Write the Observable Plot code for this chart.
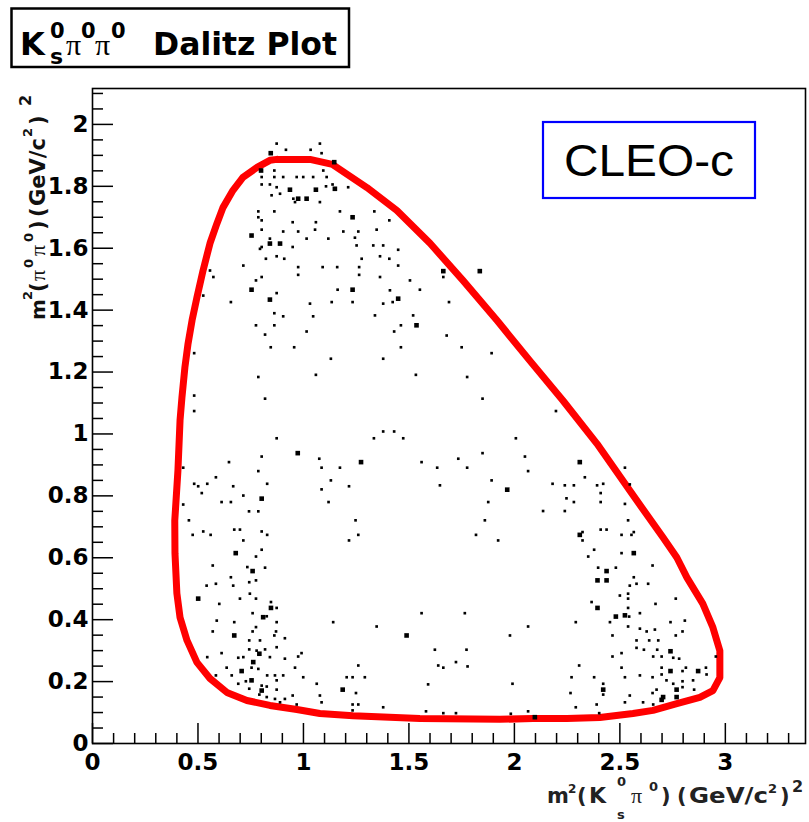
<!DOCTYPE html>
<html>
<head>
<meta charset="utf-8">
<script src="https://cdn.jsdelivr.net/npm/d3@7"></script>
<script src="https://cdn.jsdelivr.net/npm/@observablehq/plot@0.6"></script>
<style>
  body { margin: 0; background: #fff; }
  #wrap { position: relative; width: 809px; height: 822px; overflow: hidden; }
  #wrap svg.overlay { position: absolute; left: 0; top: 0; pointer-events: none; }
</style>
</head>
<body>
<div id="wrap"></div>
<script>
// Axis tick values
const xLabelTicks = [0, 0.5, 1, 1.5, 2, 2.5, 3];
const xMinorTicks = [0.1, 0.2, 0.3, 0.4, 0.6, 0.7, 0.8, 0.9, 1.1, 1.2, 1.3, 1.4, 1.6, 1.7, 1.8, 1.9,
  2.1, 2.2, 2.3, 2.4, 2.6, 2.7, 2.8, 2.9, 3.1, 3.2, 3.3];
const yLabelTicks = [0, 0.2, 0.4, 0.6, 0.8, 1, 1.2, 1.4, 1.6, 1.8, 2];
const yMinorTicks = [0.05, 0.1, 0.15, 0.25, 0.3, 0.35, 0.45, 0.5, 0.55, 0.65, 0.7, 0.75, 0.85, 0.9, 0.95,
  1.05, 1.1, 1.15, 1.25, 1.3, 1.35, 1.45, 1.5, 1.55, 1.65, 1.7, 1.75, 1.85, 1.9, 1.95, 2.05, 2.1];

// Kinematic boundary of the Dalitz plane: [m2(Ks pi0), m2(pi0 pi0)]
const boundary = [
  [0.874,1.887],[1.031,1.887],[1.137,1.871],[1.301,1.796],[1.443,1.722],[1.600,1.616],[1.756,1.496],
  [1.917,1.367],[2.073,1.237],[2.230,1.108],[2.391,0.969],[2.547,0.817],[2.704,0.666],[2.770,0.601],
  [2.818,0.536],[2.893,0.452],[2.941,0.375],[2.974,0.300],[2.974,0.213],[2.941,0.171],[2.879,0.149],
  [2.770,0.129],[2.657,0.107],[2.562,0.097],[2.405,0.084],[2.249,0.081],[2.088,0.081],[1.931,0.078],
  [1.552,0.081],[1.235,0.090],[1.078,0.097],[0.969,0.110],[0.841,0.123],[0.732,0.139],[0.637,0.165],
  [0.557,0.210],[0.495,0.262],[0.448,0.333],[0.415,0.407],[0.400,0.485],[0.391,0.614],[0.390,0.720],
  [0.405,0.882],[0.415,1.044],[0.424,1.118],[0.438,1.215],[0.453,1.292],[0.472,1.367],[0.495,1.441],
  [0.524,1.528],[0.557,1.616],[0.590,1.680],[0.619,1.732],[0.666,1.787],[0.713,1.829],[0.780,1.861],
  [0.841,1.884],[0.874,1.887]
];

// Selected candidates near the top of the plane: [m2(Ks pi0), m2(pi0 pi0), bin weight]
const eventsTop = [
  [0.873,1.938,1],[0.917,1.918,1],[1.034,1.918,1],[1.078,1.938,1],[0.845,1.907,2],[1.086,1.907,1],
  [1.146,1.878,2],[0.799,1.851,2],[0.862,1.851,1],[0.802,1.830,1],[0.862,1.830,1],[0.904,1.830,1],
  [0.968,1.830,1],[0.999,1.830,1],[1.046,1.830,1],[1.094,1.851,1],[1.110,1.830,1],[0.802,1.806,1],
  [0.841,1.806,1],[0.873,1.797,1],[0.936,1.789,2],[1.059,1.789,2],[1.107,1.800,1],[1.138,1.806,1],
  [1.149,1.792,2],[0.849,1.771,1],[0.889,1.776,1],[0.952,1.760,1],[0.975,1.760,2],[1.015,1.760,2],
  [1.078,1.749,1],[0.960,1.749,1],[1.212,1.797,1],[0.786,1.719,1],[0.862,1.719,1],[0.786,1.700,1],
  [0.802,1.690,1],[0.949,1.684,1],[1.059,1.684,1],[1.173,1.719,1],[1.233,1.700,2],[1.336,1.719,1],
  [1.407,1.690,1],[0.802,1.660,1],[0.904,1.654,1],[0.975,1.654,1],[1.055,1.660,1],[1.189,1.654,1],
  [1.260,1.654,1],[1.347,1.660,1],[0.754,1.641,2],[0.841,1.631,1],[1.015,1.631,1],[1.118,1.631,1],
  [1.244,1.634,1],[0.841,1.615,2],[0.889,1.615,2],[0.802,1.604,1],[0.794,1.598,1],[0.949,1.604,1],
  [1.252,1.609,1],[1.331,1.609,1],[1.378,1.609,1],[1.449,1.595,1],[0.822,1.566,1],[0.873,1.574,1],
  [0.909,1.566,1],[1.276,1.566,1],[1.363,1.574,1],[1.407,1.566,1],[0.715,1.544,1],[0.975,1.539,1],
  [1.091,1.539,1],[1.160,1.539,1],[1.264,1.539,1],[1.449,1.544,1],[0.557,1.528,1],[0.573,1.507,1],
  [0.802,1.507,1],[0.975,1.514,1],[1.264,1.514,1],[1.363,1.507,1],[0.775,1.496,1],[1.505,1.496,1],
  [0.754,1.466,2],[1.162,1.466,1],[1.233,1.466,2],[1.410,1.464,1],[1.552,1.466,1],[0.525,1.447,1],
  [0.873,1.455,1],[0.841,1.434,2],[1.449,1.437,2],[0.656,1.426,1],[1.031,1.421,1],[1.134,1.426,1],
  [1.233,1.426,1],[1.378,1.421,1],[1.423,1.426,1],[0.862,1.390,1],[0.904,1.380,1],[1.046,1.380,1],
  [1.339,1.383,1],[1.520,1.383,1],[0.775,1.351,1],[0.862,1.351,1],[1.462,1.351,1],[1.536,1.351,2]
];

// Candidates along the upper-right edge
const eventsRight = [
  [1.663,1.526,2],[1.663,1.507,1],[1.836,1.526,2],[1.690,1.426,1],[1.679,1.318,1],[1.750,1.280,1],
  [1.892,1.261,1],[1.776,1.184,1],[1.849,1.114,1],[2.197,1.074,1],[2.007,0.986,1],[1.849,0.938,1],
  [2.050,0.927,1],[1.734,0.920,1],[1.634,0.891,1],[1.776,0.891,1],[2.065,0.880,1],[2.310,0.909,2],
  [2.524,0.891,1],[2.334,0.860,1],[1.647,0.834,1],[1.892,0.850,1],[1.966,0.820,2],[2.181,0.839,1],
  [2.239,0.834,1],[2.282,0.834,1],[2.392,0.834,1],[2.421,0.839,1],[2.547,0.837,1],[2.409,0.809,1],
  [2.247,0.792,1],[1.876,0.780,1],[2.282,0.780,1],[2.409,0.780,1],[2.524,0.774,1],[2.136,0.751,1],
  [2.239,0.751,1],[1.860,0.721,1],[2.539,0.721,1],[1.818,0.674,1],[1.923,0.656,1],[2.310,0.674,2],
  [2.323,0.683,1],[2.323,0.656,1],[2.409,0.691,1],[2.437,0.691,1],[2.508,0.674,1],[2.555,0.674,1],
  [2.566,0.683,1],[2.378,0.626,1],[2.350,0.604,1],[2.508,0.615,1],[2.566,0.615,2]
];

// Candidates in the middle of the plane
const eventsMiddle = [
  [0.818,1.321,1],[1.015,1.331,1],[1.430,1.331,1],[0.482,1.261,1],[0.845,1.280,1],[0.956,1.280,1],
  [1.462,1.280,1],[1.130,1.243,1],[1.378,1.243,1],[0.786,1.184,1],[1.059,1.191,1],[1.533,1.191,1],
  [0.482,1.124,1],[0.818,1.114,1],[0.482,1.074,1],[0.873,0.986,1],[1.334,0.986,1],[1.378,1.008,1],
  [1.430,1.008,1],[1.473,0.986,1],[0.973,0.938,2],[0.802,0.927,1],[1.075,0.920,1],[1.273,0.909,2],
  [1.560,0.909,1],[0.647,0.909,1],[0.430,0.891,1],[0.786,0.880,1],[1.086,0.891,1],[1.173,0.891,1],
  [0.585,0.860,1],[0.482,0.839,1],[0.501,0.831,1],[0.544,0.839,1],[0.667,0.831,1],[0.828,0.839,1],
  [1.130,0.850,1],[1.216,0.831,1],[0.518,0.809,1],[0.715,0.801,1],[0.802,0.791,2],[1.086,0.821,1],
  [0.430,0.772,1],[0.612,0.780,1],[0.656,0.780,1],[1.119,0.780,1],[0.742,0.750,1],[0.786,0.750,1],
  [0.457,0.721,1],[1.247,0.721,1],[0.475,0.674,1],[0.525,0.685,1],[0.560,0.674,1],[0.672,0.691,1],
  [0.699,0.691,1],[0.802,0.685,1],[0.828,0.674,1],[1.260,0.674,1],[0.715,0.656,1],[1.216,0.656,1],
  [0.679,0.615,2],[0.802,0.626,1],[0.775,0.604,1]
];

// Candidates in the lower-left corner (K*0 band) and along the bottom
const eventsLowLeft = [
  [0.570,0.575,1],[0.734,0.570,1],[0.759,0.557,2],[0.818,0.568,1],[0.656,0.537,1],[0.541,0.510,1],
  [0.585,0.516,1],[0.667,0.510,1],[0.743,0.521,1],[0.775,0.527,1],[0.746,0.484,1],[0.501,0.468,2],
  [0.699,0.468,1],[0.775,0.468,1],[0.601,0.451,1],[0.846,0.457,1],[0.846,0.438,2],[0.873,0.438,1],
  [0.759,0.421,1],[0.809,0.408,2],[0.826,0.411,1],[0.589,0.397,1],[0.672,0.392,1],[0.873,0.392,1],
  [0.775,0.376,1],[0.759,0.362,1],[0.570,0.362,1],[0.672,0.349,2],[0.870,0.362,1],[0.862,0.349,1],
  [0.743,0.333,1],[0.794,0.333,1],[0.912,0.340,1],[0.873,0.311,1],[0.743,0.304,1],[0.778,0.300,1],
  [0.791,0.290,2],[0.818,0.304,1],[0.612,0.292,1],[0.841,0.279,1],[0.544,0.279,1],[0.691,0.277,1],
  [0.715,0.279,1],[0.912,0.274,1],[0.975,0.281,1],[0.991,0.292,1],[0.762,0.263,2],[0.636,0.245,1],
  [0.754,0.245,1],[0.786,0.241,1],[0.960,0.245,1],[0.707,0.234,2],[0.660,0.220,1],[0.828,0.220,1],
  [0.865,0.220,1],[0.904,0.220,1],[0.585,0.220,1],[0.754,0.204,2],[0.727,0.201,1],[0.873,0.204,1],
  [0.999,0.214,1],[0.691,0.193,1],[0.743,0.177,1],[0.802,0.187,1],[0.826,0.184,1],[0.873,0.174,1],
  [0.802,0.171,2],[1.063,0.193,1],[1.205,0.214,1],[1.233,0.214,1],[1.291,0.214,1],[1.260,0.252,1],
  [1.186,0.174,2],[1.249,0.163,1],[0.791,0.158,1],[0.826,0.150,1],[0.865,0.144,1],[0.912,0.144,1],
  [0.949,0.155,1],[1.078,0.155,1],[1.086,0.133,1],[0.968,0.126,1],[1.233,0.126,1],[1.260,0.126,1],
  [0.889,0.133,1],[1.233,0.107,1],[1.378,0.117,1],[1.141,0.392,1],[1.347,0.378,1],[1.489,0.349,2],
  [1.560,0.421,1],[1.765,0.421,1],[1.623,0.303,1],[1.773,0.303,1],[1.639,0.252,1],[1.663,0.245,1],
  [1.723,0.263,1],[1.778,0.249,1],[1.591,0.191,1],[1.581,0.104,1],[1.663,0.098,1],[1.723,0.098,1]
];

// Candidates in the lower-right corner
const eventsLowRight = [
  [2.397,0.568,1],[2.481,0.568,1],[2.437,0.557,2],[2.655,0.575,1],[2.394,0.527,2],[2.437,0.527,2],
  [2.566,0.537,1],[2.547,0.510,1],[2.579,0.516,1],[2.634,0.516,1],[2.500,0.478,1],[2.539,0.484,1],
  [2.539,0.468,1],[2.765,0.468,1],[2.366,0.457,1],[2.669,0.451,1],[2.394,0.438,2],[2.539,0.438,1],
  [2.481,0.410,2],[2.524,0.414,2],[2.544,0.410,1],[2.595,0.421,1],[2.291,0.392,1],[2.453,0.392,1],
  [2.539,0.378,1],[2.740,0.392,1],[2.808,0.397,1],[2.065,0.378,1],[1.979,0.349,1],[2.465,0.349,1],
  [2.595,0.371,1],[2.627,0.362,1],[2.666,0.368,1],[2.765,0.349,1],[2.797,0.362,1],[2.579,0.333,1],
  [2.639,0.333,1],[2.682,0.333,1],[2.579,0.309,1],[2.614,0.303,1],[2.677,0.303,1],[2.740,0.298,2],
  [2.658,0.281,1],[2.698,0.281,1],[2.753,0.277,1],[2.781,0.274,1],[2.465,0.281,1],[2.508,0.292,1],
  [2.955,0.281,1],[2.307,0.252,1],[2.508,0.245,1],[2.698,0.245,1],[2.740,0.234,2],[2.813,0.245,1],
  [2.871,0.234,2],[2.908,0.245,1],[2.797,0.234,1],[2.271,0.214,1],[2.378,0.214,1],[2.524,0.214,1],
  [2.595,0.220,1],[2.655,0.214,1],[2.698,0.223,1],[2.911,0.223,1],[1.991,0.193,1],[2.421,0.193,1],
  [2.421,0.174,2],[2.721,0.204,1],[2.753,0.193,1],[2.797,0.201,1],[2.847,0.204,1],[2.769,0.174,2],
  [2.797,0.182,1],[2.852,0.174,1],[2.266,0.163,1],[2.421,0.158,1],[2.547,0.155,1],[2.655,0.163,1],
  [2.674,0.174,1],[2.769,0.150,2],[2.705,0.150,2],[2.698,0.141,2],[2.524,0.133,1],[2.610,0.133,1],
  [2.658,0.126,1],[2.291,0.117,1],[2.390,0.126,1],[2.065,0.104,1],[1.983,0.096,1],[2.402,0.098,1],
  [2.097,0.085,2]
];

const events = [...eventsTop, ...eventsRight, ...eventsMiddle, ...eventsLowLeft, ...eventsLowRight];

const W = 809, H = 822;
const M = {top: 88, right: 4, bottom: 79, left: 92};
const innerW = W - M.left - M.right;
const innerH = H - M.top - M.bottom;
const rootFont = "'DejaVu Sans', sans-serif";

const chart = Plot.plot({
  width: W,
  height: H,
  marginTop: M.top,
  marginRight: M.right,
  marginBottom: M.bottom,
  marginLeft: M.left,
  x: {domain: [0, 3.38]},
  y: {domain: [0, 2.116]},
  style: {fontFamily: rootFont, fontWeight: "bold", fontSize: "23px", color: "#000", background: "#fff"},
  marks: [
    Plot.line(boundary, {x: d => d[0], y: d => d[1], stroke: "#ff0000", strokeWidth: 7, strokeLinejoin: "round"}),
    Plot.dot(events.filter(d => d[2] === 1), {x: d => d[0], y: d => d[1], symbol: "square", r: 1.5, fill: "#000"}),
    Plot.dot(events.filter(d => d[2] === 2), {x: d => d[0], y: d => d[1], symbol: "square", r: 2.6, fill: "#000"}),
    Plot.tickX(xMinorTicks, {x: d => d, stroke: "#000", strokeWidth: 1.5, insetTop: innerH - 10}),
    Plot.tickX(xLabelTicks, {x: d => d, stroke: "#000", strokeWidth: 1.5, insetTop: innerH - 20}),
    Plot.tickY(yMinorTicks, {y: d => d, stroke: "#000", strokeWidth: 1.5, insetRight: innerW - 11}),
    Plot.tickY(yLabelTicks, {y: d => d, stroke: "#000", strokeWidth: 1.5, insetRight: innerW - 21}),
    Plot.frame({stroke: "#000", strokeWidth: 1.6}),
    Plot.axisX(xLabelTicks, {tickSize: 0, tickPadding: 10, tickFormat: d => String(d), label: null,
      fontSize: 23, fontWeight: "bold", fontFamily: rootFont}),
    Plot.axisY(yLabelTicks, {tickSize: 0, tickPadding: 4, tickFormat: d => String(d), label: null,
      fontSize: 23, fontWeight: "bold", fontFamily: rootFont})
  ]
});

const wrap = document.getElementById("wrap");
wrap.appendChild(chart);

// Title pave, experiment tag and axis titles
const serif = "'Liberation Serif', 'DejaVu Serif', serif";
const overlay = `
<svg class="overlay" width="${W}" height="${H}" xmlns="http://www.w3.org/2000/svg">
  <rect x="11.5" y="8.5" width="337.5" height="58.5" fill="#fff" stroke="#000" stroke-width="2.5"/>
  <g font-family="${rootFont}" font-weight="bold" fill="#000">
    <text x="20" y="55" font-size="32">K</text>
    <text x="50" y="38" font-size="21">0</text>
    <text x="50" y="64" font-size="22">s</text>
    <text x="66" y="55" font-size="30" font-family="${serif}" font-weight="normal">π</text>
    <text x="81" y="38" font-size="21">0</text>
    <text x="95" y="55" font-size="30" font-family="${serif}" font-weight="normal">π</text>
    <text x="111" y="38" font-size="21">0</text>
    <text x="153" y="55" font-size="31.5" textLength="184" lengthAdjust="spacingAndGlyphs">Dalitz Plot</text>
  </g>

  <rect x="543" y="122" width="212" height="76" fill="#fff" stroke="#0000ff" stroke-width="2.2"/>
  <text x="649" y="176" text-anchor="middle" font-family="'Liberation Sans', Arial, sans-serif"
        font-size="45" textLength="170" lengthAdjust="spacingAndGlyphs" fill="#000">CLEO-c</text>

  <g font-family="${rootFont}" font-weight="bold" fill="#222">
    <text x="547" y="803" font-size="21">m</text>
    <text x="568" y="793" font-size="12">2</text>
    <text x="577" y="803" font-size="21">(</text>
    <text x="589" y="803" font-size="22">K</text>
    <text x="617" y="786" font-size="13">0</text>
    <text x="617" y="819" font-size="13">s</text>
    <text x="631" y="803" font-size="22" font-family="${serif}" font-weight="normal">π</text>
    <text x="649" y="791" font-size="13">0</text>
    <text x="661" y="803" font-size="21">)</text>
    <text x="677" y="803" font-size="21">(</text>
    <text x="689" y="803" font-size="21" textLength="79" lengthAdjust="spacingAndGlyphs">GeV/c</text>
    <text x="768" y="793" font-size="13">2</text>
    <text x="780" y="803" font-size="21">)</text>
    <text x="792" y="792" font-size="16">2</text>
  </g>

  <g transform="translate(45,320) rotate(-90)" font-family="${rootFont}" font-weight="bold" fill="#111">
    <text x="0" y="0" font-size="20">m</text>
    <text x="20" y="-13" font-size="13">2</text>
    <text x="28" y="0" font-size="21">(</text>
    <text x="39" y="0" font-size="22" font-family="${serif}" font-weight="normal">π</text>
    <text x="52" y="-12" font-size="13">0</text>
    <text x="64" y="0" font-size="22" font-family="${serif}" font-weight="normal">π</text>
    <text x="78" y="-12" font-size="13">0</text>
    <text x="90" y="0" font-size="21">)</text>
    <text x="103" y="0" font-size="21">(</text>
    <text x="114" y="0" font-size="21" textLength="68" lengthAdjust="spacingAndGlyphs">GeV/c</text>
    <text x="183" y="-13" font-size="13">2</text>
    <text x="195" y="0" font-size="21">)</text>
    <text x="214" y="-14" font-size="16">2</text>
  </g>
</svg>`;
wrap.insertAdjacentHTML("beforeend", overlay);
</script>
</body>
</html>
